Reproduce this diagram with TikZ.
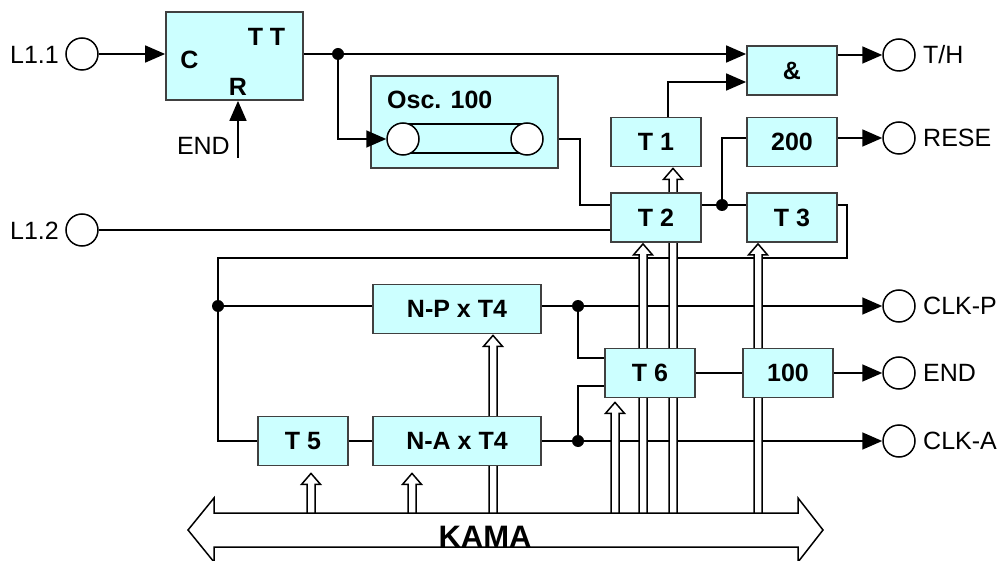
\documentclass[tikz,border=0pt]{standalone}
\usepackage{fontspec}
\setmainfont{Liberation Sans}
\usetikzlibrary{positioning, calc, arrows.meta, backgrounds}
\definecolor{boxcyan}{RGB}{204,255,255}
\definecolor{boxgray}{RGB}{64,64,64}
\tikzset{
  blk/.style={draw=boxgray, fill=boxcyan, line width=1.8pt, inner sep=0pt,
    minimum width=90pt, minimum height=49pt, font=\bfseries\fontsize{25}{30}\selectfont},
  bx/.style={inner sep=0pt, font=\bfseries\fontsize{25}{30}\selectfont},
  term/.style={circle, draw, fill=white, line width=1.5pt, minimum size=32pt, inner sep=0pt},
  lbl/.style={inner sep=0pt, font=\fontsize{25}{30}\selectfont},
  jdot/.style={circle, fill, inner sep=0pt, minimum size=12pt},
  wire/.style={line width=1.7pt},
  sig/.style={wire, -{Triangle[length=20pt, width=17pt]}},
  hollow/.style={line width=1.5pt, fill=white},
}

\begin{document}
\begin{tikzpicture}[x=1pt, y=-1pt]
    \useasboundingbox (0,0) rectangle (1004,561);

    % --- Trigger ---
    \node[blk, minimum width=137pt, minimum height=88pt] (tt) at (234.5,56) {};
    \node[bx] (ttC) at (189.5,59.5) {C};
    \node[bx] (ttT) at (266.5,37) {T T};
    \node[bx] (ttR) at (238,87) {R};

    % --- Oscillator ---
    \node[blk, minimum width=187pt, minimum height=92pt] (osc) at (464.5,122) {};
    \node[bx, anchor=west] (osclbl) at (387,100) {Osc. 100};
    \draw[wire, fill=boxcyan] (403,124) rectangle (527,153);
    \node[term] (oscin) at (403,139) {};
    \node[term] (oscout) at (527,139) {};

    % --- Blocks ---
    \node[blk] (and)  at (792,70.5)  {\&};
    \node[blk] (t1)   at (656,142)   {T 1};
    \node[blk] (b200) at (792,142)   {200};
    \node[blk] (t2)   at (656,217.5) {T 2};
    \node[blk] (t3)   at (792,217.5) {T 3};
    \node[blk, minimum width=168pt] (np) at (457,309) {N-P x T4};
    \node[blk, minimum width=168pt] (na) at (457,441) {N-A x T4};
    \node[blk] (t5)   at (303,441) {T 5};
    \node[blk] (t6)   at (650,373) {T 6};
    \node[blk] (b100) at (788,373) {100};

    % --- Terminals ---
    \node[term] (l11) at (82,54) {};
    \node[lbl, anchor=east] (l11lbl) at (59,55) {L1.1};
    \node[term] (l12) at (82,230) {};
    \node[lbl, anchor=east] (l12lbl) at (59,231) {L1.2};
    \node[lbl, anchor=east] (endlbl) at (230,146) {END};
    \coordinate (endin) at (238,158);
    \node[term] (th)   at (899,55)  {};
    \node[term] (rese) at (899,138) {};
    \node[term] (clkp) at (899,306) {};
    \node[term] (endo) at (899,373) {};
    \node[term] (clka) at (899,441) {};
    \node[lbl, anchor=west] (thlbl)   at (923,55)  {T/H};
    \node[lbl, anchor=west] (reselbl) at (923,138) {RESE};
    \node[lbl, anchor=west] (clkplbl) at (923,306) {CLK-P};
    \node[lbl, anchor=west] (endolbl) at (923,373) {END};
    \node[lbl, anchor=west] (clkalbl) at (923,441) {CLK-A};

    % --- Junctions ---
    \node[jdot] (j1) at (338,54)  {};
    \node[jdot] (j2) at (722,205) {};
    \node[jdot] (j3) at (218,306) {};
    \node[jdot] (j4) at (578,306) {};
    \node[jdot] (j5) at (578,441) {};
    \coordinate (fb)  at (847,258);
    \coordinate (fbl) at (218,258);
    \coordinate (bustop) at (0,513);

    \node[inner sep=0pt, font=\bfseries\fontsize{31}{36}\selectfont, anchor=base] (kama) at (485,547) {KAMA};

    % Trigger output into the oscillator (over the box)
    \draw[sig] (j1) |- (oscin.west);

    \begin{scope}[on background layer]
        % Inputs of the trigger
        \draw[sig] (l11.east) -- (tt.west |- l11.east);
        \draw[sig] (endin) -- (endin |- tt.south);
        % Trigger output
        \draw[wire] (tt.east |- j1) -- (j1);
        \draw[sig] (j1) -- (and.west |- j1);
        % Oscillator to T 2
        \draw[wire] (oscout.east) -- ++(36,0) |- (t2.west |- j2);
        \draw[wire] (l12.east) -- (t2.west |- l12.east);
        % T 2 to T 3 and 200
        \draw[wire] (t2.east |- j2) -- (t3.west |- j2);
        \draw[wire] (j2) |- ([yshift=4pt]b200.west);
        \draw[sig] (b200.east |- rese) -- (rese.west);
        % T 1 to &
        \draw[sig] ([xshift=12pt]t1.north) |- ([yshift=-11.5pt]and.west);
        \draw[sig] (and.east |- th) -- (th.west);
        % Feedback of T 3
        \draw[wire] (t3.east |- j2) -| (fb) -- (fbl) |- (t5.west);
        \draw[wire] (j3) -- (np.west |- j3);
        \draw[wire] (t5.east) -- (na.west);
        % Counters out
        \draw[wire] (np.east |- j4) -- (j4);
        \draw[sig] (j4) -- (clkp.west);
        \draw[wire] (j4) |- ([yshift=15pt]t6.west);
        \draw[wire] (na.east) -- (j5);
        \draw[sig] (j5) -- (clka.west);
        \draw[wire] (j5) |- ([yshift=-13pt]t6.west);
        \draw[wire] (t6.east) -- (b100.west);
        \draw[sig] (b100.east) -- (endo.west);

        % Hollow arrows from the bus
        \foreach \n/\dx/\gap in {t5/8/7, na/-45/7, np/36/1, t6/-35/4, t2/-13/1, t1/17/1, t3/-34/1} {
            \coordinate (tip) at ($(\n.south)+(\dx,\gap)$);
            \draw[hollow] ($(tip |- bustop)+(-4,0)$) -- ($(tip)+(-4,11)$) -- ($(tip)+(-9.5,11)$)
                -- (tip) -- ($(tip)+(9.5,11)$) -- ($(tip)+(4,11)$) -- ($(tip |- bustop)+(4,0)$);
        }

        % Bus
        \draw[hollow] (214,513) -- (798,513) -- (798,498) -- (823,530) -- (798,562) -- (798,547)
            -- (214,547) -- (214,562) -- (188,530) -- (214,498) -- cycle;
    \end{scope}
\end{tikzpicture}
\end{document}
